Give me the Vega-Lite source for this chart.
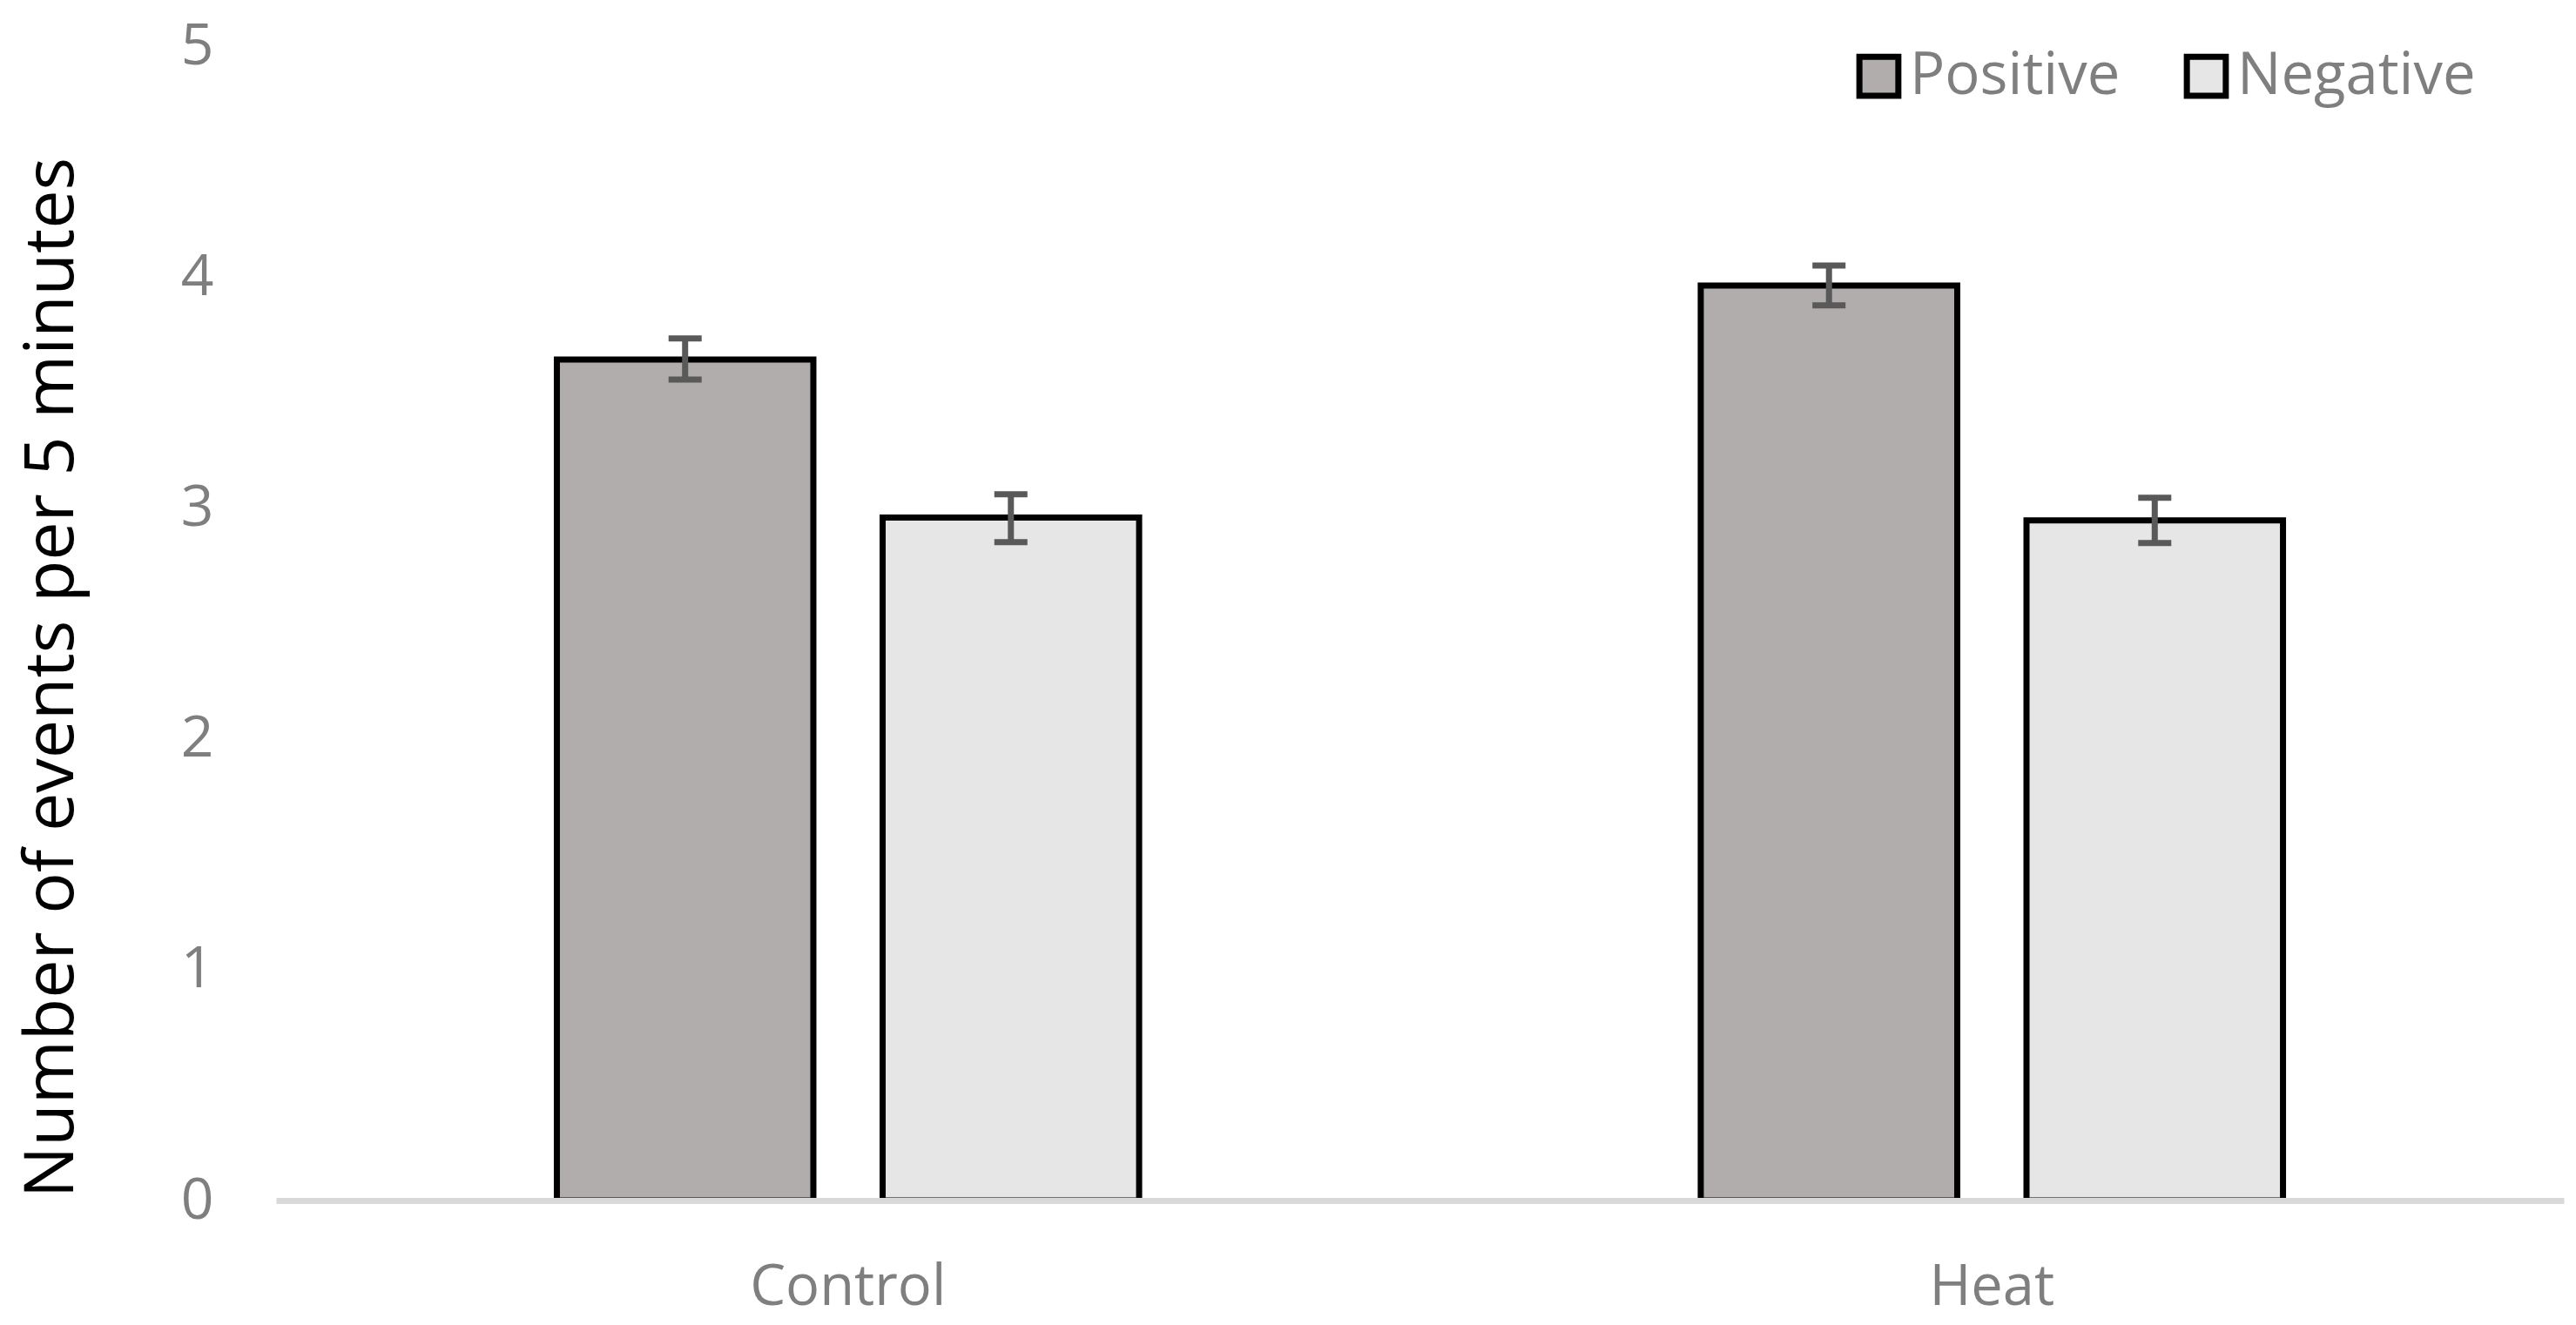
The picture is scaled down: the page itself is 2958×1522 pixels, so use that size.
{
  "$schema": "https://vega.github.io/schema/vega-lite/v6.json",
  "width": 2627,
  "height": 1326,
  "autosize": {"type": "none"},
  "padding": {"left": 317, "top": 53, "right": 14, "bottom": 143},
  "background": "white",
  "config": {"view": {"stroke": null}, "font": "Open Sans"},
  "data": {
    "values": [
      {"group": "Control", "series": "Positive", "value": 3.643, "lo": 3.556, "hi": 3.734},
      {"group": "Control", "series": "Negative", "value": 2.958, "lo": 2.852, "hi": 3.059},
      {"group": "Heat", "series": "Positive", "value": 3.963, "lo": 3.877, "hi": 4.05},
      {"group": "Heat", "series": "Negative", "value": 2.946, "lo": 2.848, "hi": 3.044}
    ]
  },
  "encoding": {
    "x": {
      "field": "group",
      "type": "nominal",
      "sort": ["Control", "Heat"],
      "scale": {"paddingInner": 0, "paddingOuter": 0},
      "axis": {
        "title": null,
        "labelAngle": 0,
        "labelLimit": 0,
        "domainColor": "#D9D9D9",
        "domainWidth": 7,
        "ticks": false,
        "tickSize": 0,
        "labelFont": "Open Sans",
        "labelFontSize": 65,
        "labelColor": "#7F7F7F",
        "labelPadding": 119,
        "labelBaseline": "alphabetic",
        "zindex": 1
      }
    },
    "xOffset": {
      "field": "series",
      "type": "nominal",
      "sort": ["Positive", "Negative"],
      "scale": {"domain": ["Positive", "Negative"], "paddingInner": 0.2126, "paddingOuter": 0.862}
    }
  },
  "layer": [
    {
      "mark": {"type": "bar", "stroke": "black", "strokeWidth": 7},
      "encoding": {
        "y": {
          "field": "value",
          "type": "quantitative",
          "title": "Number of events per 5 minutes",
          "scale": {"domain": [0, 5], "nice": false, "zero": true},
          "axis": {
            "values": [0, 1, 2, 3, 4, 5],
            "format": "d",
            "domain": false,
            "ticks": false,
            "tickSize": 0,
            "grid": false,
            "labelPadding": 72,
            "labelFont": "Open Sans",
            "labelFontSize": 66,
            "labelColor": "#7F7F7F",
            "titleFont": "Open Sans",
            "titleFontSize": 79,
            "titleFontWeight": "normal",
            "titleColor": "black",
            "titleAngle": -90,
            "titleAlign": "center",
            "titleBaseline": "alphabetic",
            "titleX": -234,
            "titleY": 725
          }
        },
        "color": {
          "field": "series",
          "type": "nominal",
          "scale": {"domain": ["Positive", "Negative"], "range": ["#B0ADAC", "#E7E6E6"]},
          "legend": {
            "title": null,
            "orient": "none",
            "direction": "horizontal",
            "legendX": 1807,
            "legendY": 1,
            "symbolType": "square",
            "symbolSize": 2000,
            "symbolStrokeColor": "black",
            "symbolStrokeWidth": 7,
            "symbolOpacity": 1,
            "labelFont": "Open Sans",
            "labelFontSize": 67,
            "labelColor": "#7F7F7F",
            "labelLimit": 0,
            "labelOffset": 2,
            "columnPadding": 62
          }
        }
      }
    },
    {
      "mark": {"type": "rule", "color": "#595959", "strokeWidth": 7},
      "encoding": {
        "y": {"field": "lo", "type": "quantitative", "title": "Number of events per 5 minutes"},
        "y2": {"field": "hi"}
      }
    },
    {
      "mark": {"type": "tick", "color": "#595959", "size": 38, "thickness": 7, "opacity": 1},
      "encoding": {
        "y": {"field": "lo", "type": "quantitative", "title": "Number of events per 5 minutes"}
      }
    },
    {
      "mark": {"type": "tick", "color": "#595959", "size": 38, "thickness": 7, "opacity": 1},
      "encoding": {
        "y": {"field": "hi", "type": "quantitative", "title": "Number of events per 5 minutes"}
      }
    }
  ]
}
